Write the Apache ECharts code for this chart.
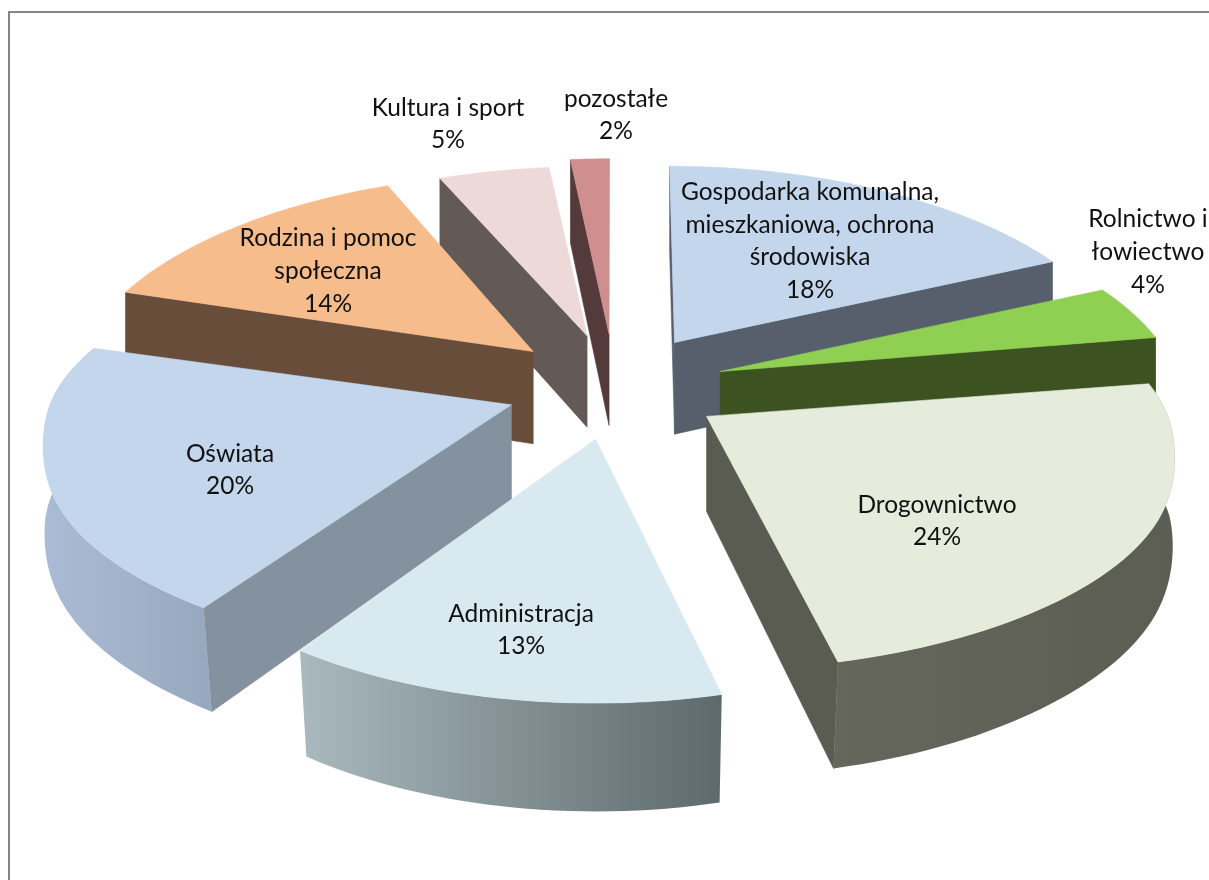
<!DOCTYPE html>
<html>
<head>
<meta charset="utf-8">
<style>html,body{margin:0;padding:0;background:#fff}#c{width:1209px;height:880px}</style>
<script src="https://cdn.jsdelivr.net/npm/echarts@6/dist/echarts.min.js"></script>
</head>
<body>
<div id="c"></div>
<script>
const categories = ['Gospodarka komunalna,\nmieszkaniowa, ochrona\nśrodowiska','Rolnictwo i\nłowiectwo','Drogownictwo','Administracja','Oświata','Rodzina i pomoc\nspołeczna','Kultura i sport','pozostałe'];
const values = [18.2, 4.16, 23.98, 12.97, 20.45, 13.79, 4.73, 1.72];
const topColors = ['#c3d6ec','#8fd052','#e5ecdb','#d8e9f0','#c3d6ec','#f7bc8c','#eed9d9','#cf8f8f'];
const faceColors = ['#575f6d','#3c5220','#5b5c51','#70797c','#84919f','#674d3a','#635956','#543a3a'];
const wallLeft = ['#575f6d','#3c5220','#66675c','#a9b9bd','#abbbd5','#674d3a','#635956','#543a3a'];
const wallRight = ['#575f6d','#3c5220','#5d5e53','#5d6a6d','#97a8bd','#674d3a','#635956','#543a3a'];
const drawOrder = [3,4,7,8,6,5,2,1];
const rimScaleX = [0.97,0.985,1,0.96,1,0.975,0.96,0.93];
const rimScaleY = [0.99,1,0.957,0.995,0.955,1,0.95,0.985];
const labelCenters = [[810,241],[1148,252],[937,521],[521,630],[230,470],[328,271],[448,124],[616,115]];

const CX=615, CY=387, EX=110, EY=53, R=466, RK=213, A=0.197;
const rad = d => d*Math.PI/180;
const total = values.reduce((a,b)=>a+b,0);

function persp(v){ return 1/(1-A*v); }
function rimPoint(i,ax,ay,theta){
  const u=Math.sin(rad(theta)), v=-Math.cos(rad(theta)), p=persp(v);
  const shift = v<0 ? (ax-CX)*(p-1)*0.5 : 0;
  const flat = 1-0.015*Math.exp(-Math.pow((v-0.2)/0.3,2));
  return [ax+R*u*p*flat*rimScaleX[i]+shift, ay+RK*v*p*rimScaleY[i]];
}
function lower(pt){
  const narrow = 1-0.02*Math.min(1,Math.max(0,(pt[1]-420)/190));
  return [CX+(pt[0]-CX)*narrow, pt[1]+76+0.046*pt[1]];
}
function arcPts(i,ax,ay,a,b){
  const n=Math.max(2,Math.ceil((b-a)/1.5)), out=[];
  for(let k=0;k<=n;k++) out.push(rimPoint(i,ax,ay,a+(b-a)*k/n));
  return out;
}
function poly(points,fill,z2){
  return {type:'polygon',shape:{points},style:{fill,stroke:typeof fill==='string'?fill:null,lineWidth:0.6},z2};
}
function renderItem(params,api){
  const i=params.dataIndex;
  let before=0; for(let k=0;k<i;k++) before+=values[k];
  const a=before/total*360, b=(before+api.value(0))/total*360, mid=(a+b)/2;
  const ax=CX+EX*Math.sin(rad(mid)), ay=CY-EY*Math.cos(rad(mid));
  const apex=[ax,ay], apexLow=lower(apex);
  const base=drawOrder[i]*10;
  const children=[];
  const face=(t)=>{const r=rimPoint(i,ax,ay,t);return [apex,r,lower(r),apexLow];};
  if(Math.sin(rad(a))<0 || a===0) children.push(poly(face(a),faceColors[i],base+1));
  if(Math.sin(rad(b))>0.001) children.push(poly(face(b),faceColors[i],base+2));
  const wa=Math.max(a,80), wb=Math.min(b,280);
  if(wb>wa){
    const arc=arcPts(i,ax,ay,wa,wb);
    const pts=arc.concat(arc.map(lower).reverse());
    children.push(poly(pts,{type:'linear',x:0,y:0,x2:1,y2:0,colorStops:[
      {offset:0,color:wallLeft[i]},{offset:1,color:wallRight[i]}]},base+3));
  }
  children.push(poly([apex].concat(arcPts(i,ax,ay,a,b)),topColors[i],base+4));
  const c=labelCenters[i];
  children.push({type:'text',x:c[0],y:c[1],z2:1000,style:{
    text:categories[i]+'\n'+Math.round(api.value(0))+'%',
    fill:'#111',font:'24.5px Lato',textAlign:'center',textVerticalAlign:'middle',lineHeight:32.7}});
  return {type:'group',children};
}
const chart=echarts.init(document.getElementById('c'),null,{renderer:'canvas'});
chart.setOption({
  animation:false,
  backgroundColor:'#fff',
  graphic:[{type:'polyline',shape:{points:[[9,880],[9,12],[1209,12]]},style:{stroke:'#868686',lineWidth:2,fill:null},silent:true}],
  series:[{type:'custom',coordinateSystem:'none',silent:true,renderItem,
    data:values.map((v,i)=>({name:categories[i],value:[v]}))}]
});
</script>
</body>
</html>
